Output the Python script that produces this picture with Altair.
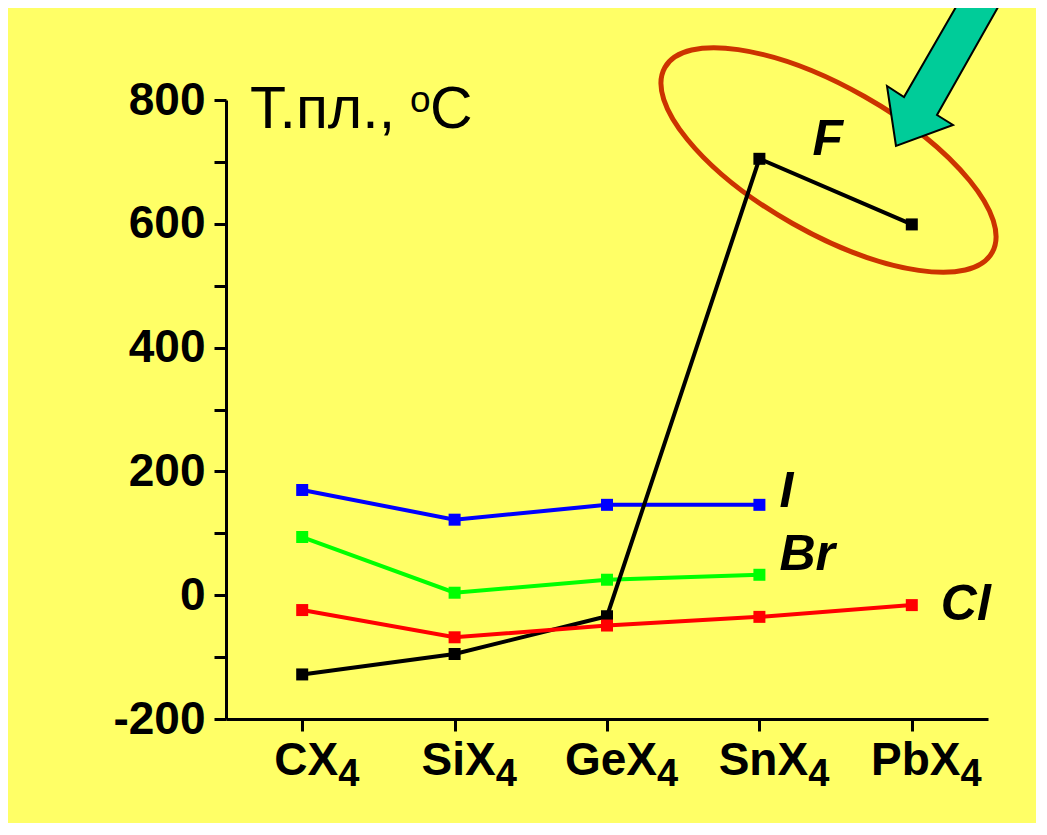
import altair as alt
import pandas as pd

# ---------------- data ----------------
categories = ["CX4", "SiX4", "GeX4", "SnX4", "PbX4"]
cat_main = ["CX", "SiX", "GeX", "SnX", "PbX"]
cat_sub = ["4", "4", "4", "4", "4"]

f_values = [-128, -95, -34, 705, 599]
cl_values = [-24, -68, -49, -35, -16]
br_values = [94, 4, 25, 33, None]
i_values = [170, 122, 146, 146, None]

y_tick_values = list(range(-200, 801, 100))
title_parts = ["Т.пл.,", "o", "C"]

# ---------------- styling ----------------
FONT = "Liberation Sans"
W, H = 762, 619
BG = "#FFFF66"

series_style = [
    # name, values, color, label anchor index, dx, dy
    ("Br", br_values, "#00FF00", 3, 20, -5),
    ("I", i_values, "#0000FF", 3, 20, 2),
    ("F", f_values, "#000000", 3, 53, -4),
    ("Cl", cl_values, "#FF0000", 4, 29, 15),
]

xscale = alt.Scale(type="point", domain=categories, padding=0.5)
yscale = alt.Scale(domain=[-200, 800], nice=False, zero=False)

x_enc = alt.X(
    "cat:N", scale=xscale, sort=categories,
    axis=alt.Axis(labels=False, title=None, grid=False, tickSize=12, ticks=True, domain=True),
)
y_enc = alt.Y(
    "val:Q", scale=yscale,
    axis=alt.Axis(
        values=y_tick_values, title=None, grid=False, tickSize=12, labelPadding=9,
        labelOverlap=False, labelFontSize=46, labelFontWeight="bold", labelFont=FONT,
        labelExpr="datum.value % 200 == 0 ? '' + datum.value : ''",
    ),
)

layers = []

# ellipse annotation (custom symbol path, rotated)
ell_ratio = 73 / 188
ellipse_path = f"M -1 0 A 1 {ell_ratio:.4f} 0 1 1 1 0 A 1 {ell_ratio:.4f} 0 1 1 -1 0 Z"
layers.append(
    alt.Chart(pd.DataFrame({"k": [0]})).mark_point(
        shape=ellipse_path, size=(2 * 188) ** 2, angle=29.5, filled=False,
        stroke="#CC3300", strokeWidth=5, opacity=1,
    ).encode(x=alt.value(602.5), y=alt.value(60))
)

# series lines + square markers + labels
for name, vals, color, anchor, ldx, ldy in series_style:
    df = pd.DataFrame({"cat": categories, "val": vals}).dropna()
    base = alt.Chart(df).encode(x=x_enc, y=y_enc)
    layers.append(base.mark_line(color=color, strokeWidth=4))
    layers.append(base.mark_point(shape="square", filled=True, size=144, color=color, opacity=1))
    lab = pd.DataFrame({"cat": [categories[anchor]], "val": [vals[anchor]], "t": [name]})
    layers.append(
        alt.Chart(lab).mark_text(
            align="left", baseline="alphabetic", dx=ldx, dy=ldy, font=FONT,
            fontSize=50, fontWeight="bold", fontStyle="italic", color="black",
        ).encode(x=x_enc, y=y_enc, text="t:N")
    )

# category labels with subscript
ADV = {"C": 722, "X": 667, "S": 667, "i": 278, "G": 778, "e": 556, "n": 611, "P": 667, "b": 611}
for cat, main, sub in zip(categories, cat_main, cat_sub):
    wmain = sum(ADV.get(ch, 600) for ch in main) / 1000 * 46
    d = pd.DataFrame({"cat": [cat], "m": [main], "s": [sub]})
    layers.append(
        alt.Chart(d).mark_text(
            align="center", baseline="alphabetic", dx=4, font=FONT, fontSize=46,
            fontWeight="bold", color="black",
        ).encode(x=x_enc, y=alt.value(675), text="m:N")
    )
    layers.append(
        alt.Chart(d).mark_text(
            align="left", baseline="alphabetic", dx=4 + wmain / 2, font=FONT, fontSize=38,
            fontWeight="bold", color="black",
        ).encode(x=x_enc, y=alt.value(686), text="s:N")
    )

# axis title "Т.пл., oC"
title_df = pd.DataFrame({"t": title_parts})
title_pos = [(24, 28, 59), (184, 12, 37), (204, 28, 59)]
for part, (tx, ty, fs) in zip(title_parts, title_pos):
    layers.append(
        alt.Chart(pd.DataFrame({"t": [part]})).mark_text(
            align="left", baseline="alphabetic", font=FONT, fontSize=fs, color="black",
        ).encode(x=alt.value(tx), y=alt.value(ty), text="t:N")
    )

# arrow annotation (custom symbol path)
arrow_path = ("M -0.54 0.86 L -0.63 0.26 L -0.46 0.37 L 0.158 -0.70 "
              "L 0.577 -0.70 L -0.13 0.55 L 0.03 0.65 Z")
layers.append(
    alt.Chart(pd.DataFrame({"k": [0]})).mark_point(
        shape=arrow_path, size=200 ** 2, filled=True, fill="#00CC99",
        stroke="black", strokeWidth=2, opacity=1,
    ).encode(x=alt.value(724), y=alt.value(-40))
)

chart = alt.layer(*layers).properties(
    width=W, height=H,
    padding={"left": 218, "top": 92, "right": 48, "bottom": 104},
    autosize=alt.AutoSizeParams(type="none"),
).configure(background=BG).configure_view(stroke="transparent").configure_axis(
    domainColor="black", domainWidth=3, tickColor="black", tickWidth=3,
    labelColor="black", grid=False,
)

chart.save("out.html", embed_options={"renderer": "svg", "actions": False})
